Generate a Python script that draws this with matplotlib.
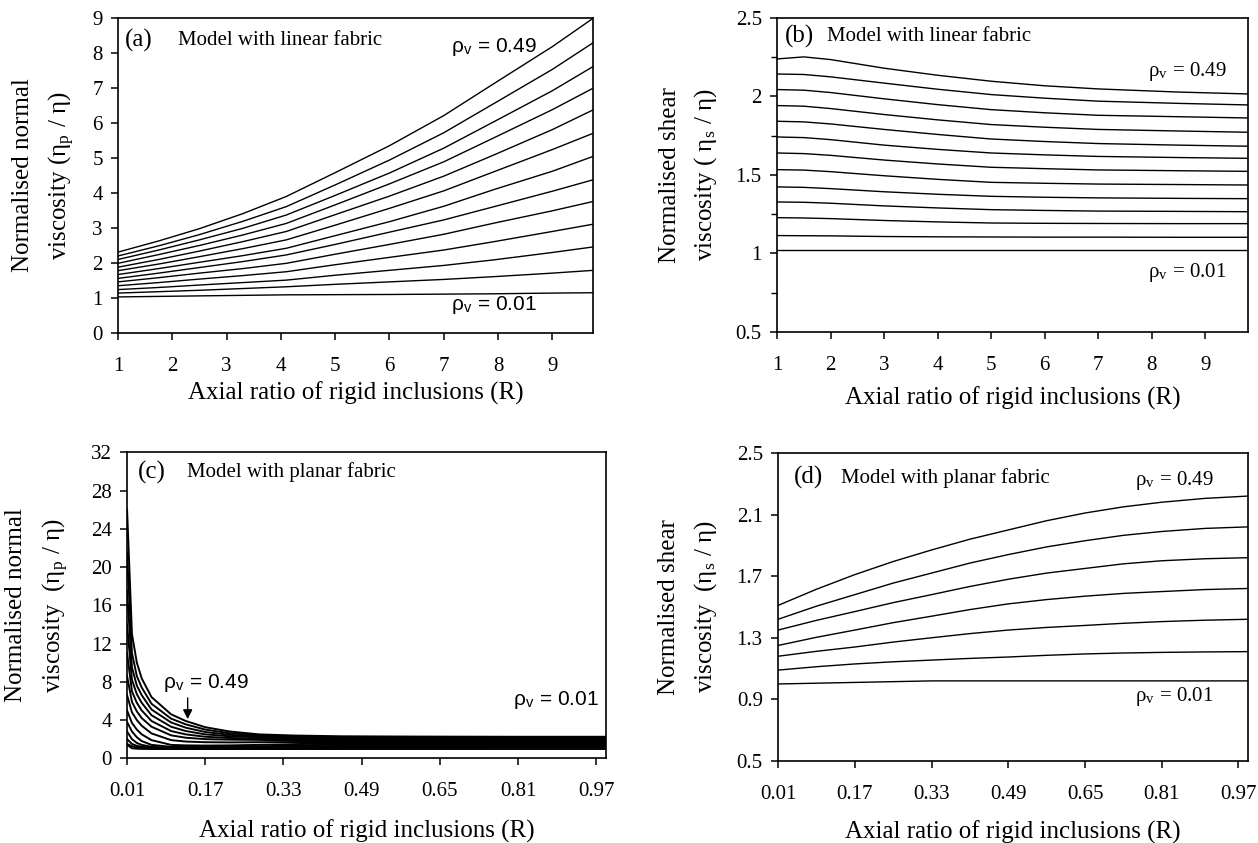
import numpy as np
import matplotlib.pyplot as plt
from matplotlib.ticker import MultipleLocator

plt.rcParams['font.family'] = 'Liberation Serif'
plt.rcParams['mathtext.fontset'] = 'stix'

# --- panel (a): normal viscosity, linear fabric (rho_v = 0.49 ... 0.01) ---
R_a = [1, 1.75, 2.5, 3.3, 4.1, 5, 6, 7, 7.93, 9, 9.76]
eta_a = [
    [2.31, 2.63, 2.98, 3.41, 3.90, 4.58, 5.35, 6.21, 7.13, 8.18, 9.00],
    [2.20, 2.49, 2.81, 3.19, 3.61, 4.23, 4.94, 5.72, 6.56, 7.53, 8.30],
    [2.10, 2.37, 2.66, 2.99, 3.37, 3.93, 4.57, 5.28, 6.04, 6.92, 7.62],
    [1.99, 2.24, 2.50, 2.80, 3.13, 3.66, 4.26, 4.89, 5.58, 6.38, 7.00],
    [1.88, 2.10, 2.34, 2.61, 2.90, 3.38, 3.91, 4.48, 5.09, 5.81, 6.38],
    [1.78, 1.97, 2.18, 2.41, 2.66, 3.08, 3.56, 4.06, 4.61, 5.24, 5.71],
    [1.67, 1.84, 2.02, 2.21, 2.42, 2.78, 3.18, 3.62, 4.10, 4.62, 5.05],
    [1.56, 1.71, 1.87, 2.04, 2.23, 2.53, 2.88, 3.23, 3.61, 4.05, 4.38],
    [1.46, 1.58, 1.71, 1.84, 1.99, 2.25, 2.53, 2.82, 3.14, 3.49, 3.76],
    [1.35, 1.44, 1.54, 1.64, 1.75, 1.95, 2.16, 2.37, 2.61, 2.90, 3.11],
    [1.24, 1.30, 1.37, 1.44, 1.51, 1.65, 1.79, 1.93, 2.09, 2.30, 2.46],
    [1.14, 1.18, 1.22, 1.27, 1.32, 1.39, 1.46, 1.53, 1.61, 1.71, 1.79],
    [1.03, 1.045, 1.06, 1.075, 1.09, 1.095, 1.10, 1.11, 1.12, 1.14, 1.15],
]

# --- panel (b): shear viscosity, linear fabric ---
R_b = [1, 1.5, 2, 3, 4, 5, 6, 7, 8.5, 9.8]
eta_b = [
    [2.239, 2.252, 2.235, 2.180, 2.135, 2.097, 2.068, 2.048, 2.028, 2.016],
    [2.143, 2.140, 2.125, 2.085, 2.046, 2.012, 1.989, 1.970, 1.956, 1.946],
    [2.044, 2.040, 2.025, 1.985, 1.948, 1.916, 1.896, 1.880, 1.871, 1.863],
    [1.942, 1.938, 1.923, 1.885, 1.851, 1.821, 1.804, 1.790, 1.780, 1.772],
    [1.842, 1.838, 1.825, 1.790, 1.758, 1.729, 1.713, 1.700, 1.690, 1.683],
    [1.742, 1.738, 1.725, 1.690, 1.663, 1.640, 1.628, 1.618, 1.611, 1.606],
    [1.640, 1.636, 1.625, 1.595, 1.570, 1.549, 1.540, 1.532, 1.527, 1.523],
    [1.534, 1.531, 1.521, 1.495, 1.472, 1.453, 1.447, 1.442, 1.439, 1.436],
    [1.424, 1.421, 1.413, 1.393, 1.377, 1.364, 1.358, 1.354, 1.351, 1.349],
    [1.328, 1.326, 1.320, 1.303, 1.290, 1.279, 1.274, 1.270, 1.268, 1.266],
    [1.228, 1.226, 1.222, 1.210, 1.201, 1.194, 1.192, 1.191, 1.190, 1.190],
    [1.114, 1.113, 1.112, 1.108, 1.106, 1.105, 1.104, 1.104, 1.103, 1.103],
    [1.020, 1.020, 1.020, 1.020, 1.020, 1.020, 1.020, 1.020, 1.020, 1.020],
]

# --- panel (c): normal viscosity, planar fabric ---
R_c = [0.01, 0.02, 0.03, 0.04, 0.06, 0.1, 0.13, 0.17, 0.22, 0.28, 0.35, 0.45, 0.6, 0.8, 0.99]
eta_c = [
    [26.0, 13.0, 10.0, 8.35, 6.4, 4.6, 3.9, 3.25, 2.8, 2.5, 2.38, 2.3, 2.27, 2.25, 2.25],
    [21.5, 11.0, 8.6, 7.4, 5.7, 4.15, 3.55, 3.0, 2.62, 2.4, 2.28, 2.2, 2.17, 2.15, 2.15],
    [17.5, 9.5, 7.6, 6.6, 5.1, 3.75, 3.2, 2.75, 2.45, 2.3, 2.18, 2.1, 2.07, 2.05, 2.05],
    [14.0, 8.2, 6.7, 5.8, 4.5, 3.3, 2.85, 2.5, 2.3, 2.2, 2.08, 2.0, 1.97, 1.95, 1.95],
    [11.0, 7.0, 5.8, 5.0, 3.9, 2.85, 2.5, 2.25, 2.12, 2.05, 1.98, 1.9, 1.87, 1.85, 1.85],
    [8.6, 5.9, 4.9, 4.2, 3.3, 2.4, 2.15, 2.0, 1.95, 1.92, 1.86, 1.8, 1.77, 1.75, 1.75],
    [6.6, 4.8, 4.0, 3.4, 2.6, 1.9, 1.75, 1.68, 1.66, 1.68, 1.7, 1.7, 1.67, 1.65, 1.65],
    [5.0, 3.7, 3.0, 2.5, 1.9, 1.4, 1.35, 1.33, 1.35, 1.4, 1.48, 1.58, 1.57, 1.55, 1.55],
    [3.8, 2.8, 2.2, 1.8, 1.4, 1.2, 1.18, 1.18, 1.2, 1.25, 1.33, 1.45, 1.47, 1.45, 1.45],
    [2.8, 2.0, 1.6, 1.4, 1.2, 1.1, 1.1, 1.1, 1.12, 1.16, 1.22, 1.3, 1.36, 1.35, 1.35],
    [2.0, 1.5, 1.3, 1.2, 1.1, 1.06, 1.06, 1.06, 1.07, 1.1, 1.14, 1.2, 1.25, 1.25, 1.25],
    [1.5, 1.25, 1.15, 1.1, 1.05, 1.03, 1.03, 1.03, 1.04, 1.05, 1.07, 1.1, 1.13, 1.14, 1.15],
    [1.4, 1.05, 1.0, 0.98, 0.97, 0.97, 0.97, 0.97, 0.97, 0.97, 0.97, 0.97, 0.97, 0.97, 0.97],
]

# --- panel (d): shear viscosity, planar fabric ---
R_d = [0.01, 0.09, 0.17, 0.25, 0.33, 0.41, 0.49, 0.57, 0.65, 0.73, 0.81, 0.9, 0.99]
eta_d = [
    [1.51, 1.615, 1.71, 1.795, 1.87, 1.94, 2.00, 2.06, 2.11, 2.15, 2.18, 2.205, 2.22],
    [1.42, 1.505, 1.58, 1.655, 1.72, 1.785, 1.84, 1.89, 1.93, 1.965, 1.99, 2.01, 2.02],
    [1.35, 1.413, 1.47, 1.528, 1.58, 1.633, 1.68, 1.72, 1.75, 1.78, 1.80, 1.813, 1.82],
    [1.25, 1.303, 1.35, 1.398, 1.44, 1.483, 1.52, 1.548, 1.57, 1.588, 1.60, 1.613, 1.62],
    [1.18, 1.212, 1.24, 1.272, 1.30, 1.327, 1.35, 1.367, 1.38, 1.394, 1.405, 1.414, 1.42],
    [1.09, 1.112, 1.13, 1.144, 1.155, 1.166, 1.175, 1.186, 1.195, 1.201, 1.205, 1.208, 1.21],
    [1.00, 1.005, 1.01, 1.015, 1.02, 1.02, 1.02, 1.02, 1.02, 1.02, 1.02, 1.02, 1.02],
]

ticks_lin = [1, 2, 3, 4, 5, 6, 7, 8, 9]
ticks_pl = [0.01, 0.17, 0.33, 0.49, 0.65, 0.81, 0.97]
xlab = 'Axial ratio of rigid inclusions (R)'
rho_lbl = 'ρ$_{\\mathregular{v}}$ = '

fig = plt.figure(figsize=(12.58, 8.43), dpi=100)
ax_a = fig.add_axes([0.0938, 0.605, 0.3776, 0.3737])
ax_b = fig.add_axes([0.6177, 0.6062, 0.3744, 0.3725])
ax_c = fig.add_axes([0.1010, 0.1005, 0.3808, 0.3630])
ax_d = fig.add_axes([0.6185, 0.0973, 0.3736, 0.3654])


def style(ax, ylab, ylab_x, xlab_y):
    for s in ax.spines.values():
        s.set_linewidth(1.2)
    ax.tick_params(direction='out', length=5, width=1.1, labelsize=15)
    ax.tick_params(axis='x', pad=12)
    ax.tick_params(axis='y', pad=6)
    ax.tick_params(which='minor', direction='out', length=4, width=1.0)
    ax.text(ylab_x, 0.5, ylab, transform=ax.transAxes, rotation=90,
            ha='center', va='center', ma='center', fontsize=18, linespacing=1.6)
    ax.set_xlabel(xlab, fontsize=18, va='center')
    ax.xaxis.set_label_coords(0.5, xlab_y)


# (a)
for row in eta_a:
    ax_a.plot(R_a, row, color='black', lw=1.0)
ax_a.set_xlim(1, 9.75)
ax_a.set_ylim(0, 9)
ax_a.set_xticks(ticks_lin)
ax_a.set_yticks(range(0, 10))
style(ax_a, 'Normalised normal\nviscosity (η$_{\\mathregular{p}}$ / η)', -0.156, -0.19)
ax_a.text(1.13, 8.37, '(a)', fontsize=18, va='center')
ax_a.text(2.1, 8.37, 'Model with linear fabric', fontsize=15, va='center')
ax_a.text(7.13, 8.18, rho_lbl + '0.49', fontsize=15, va='center', family='Liberation Sans')
ax_a.text(7.13, 0.8, rho_lbl + '0.01', fontsize=15, va='center', family='Liberation Sans')

# (b)
for row in eta_b:
    ax_b.plot(R_b, row, color='black', lw=1.0)
ax_b.set_xlim(1, 9.8)
ax_b.set_ylim(0.5, 2.5)
ax_b.set_xticks(ticks_lin)
ax_b.set_yticks([0.5, 1, 1.5, 2, 2.5])
ax_b.set_yticklabels(['0.5', '1', '1.5', '2', '2.5'])
ax_b.yaxis.set_minor_locator(MultipleLocator(0.25))
style(ax_b, 'Normalised shear\nviscosity ( η$_{\\mathregular{s}}$ / η)', -0.187, -0.21)
ax_b.text(1.15, 2.38, '(b)', fontsize=18, va='center')
ax_b.text(1.93, 2.38, 'Model with linear fabric', fontsize=15, va='center')
ax_b.text(7.93, 2.16, rho_lbl + '0.49', fontsize=15, va='center')
ax_b.text(7.93, 0.88, rho_lbl + '0.01', fontsize=15, va='center')

# (c)
for row in eta_c:
    ax_c.plot(R_c, row, color='black', lw=1.4)
ax_c.set_xlim(0.01, 0.99)
ax_c.set_ylim(0, 32)
ax_c.set_xticks(ticks_pl)
ax_c.set_xticklabels(['%.2f' % t for t in ticks_pl])
ax_c.set_yticks(range(0, 33, 4))
style(ax_c, 'Normalised normal\nviscosity  (η$_{\\mathregular{p}}$ / η)', -0.187, -0.239)
ax_c.text(0.0325, 29.9, '(c)', fontsize=18, va='center')
ax_c.text(0.132, 29.9, 'Model with planar fabric', fontsize=15, va='center')
ax_c.text(0.0836, 7.86, rho_lbl + '0.49', fontsize=15, va='center', family='Liberation Sans')
ax_c.annotate('', xy=(0.134, 3.8), xytext=(0.134, 6.6),
              arrowprops=dict(arrowstyle='-|>', color='black', lw=1.0, mutation_scale=14))
ax_c.text(0.80, 6.1, rho_lbl + '0.01', fontsize=15, va='center', family='Liberation Sans')

# (d)
for row in eta_d:
    ax_d.plot(R_d, row, color='black', lw=1.0)
ax_d.set_xlim(0.01, 0.99)
ax_d.set_ylim(0.5, 2.5)
ax_d.set_xticks(ticks_pl)
ax_d.set_xticklabels(['%.2f' % t for t in ticks_pl])
ax_d.set_yticks([0.5, 0.9, 1.3, 1.7, 2.1, 2.5])
style(ax_d, 'Normalised shear\nviscosity  (η$_{\\mathregular{s}}$ / η)', -0.191, -0.23)
ax_d.text(0.043, 2.34, '(d)', fontsize=18, va='center')
ax_d.text(0.142, 2.34, 'Model with planar fabric', fontsize=15, va='center')
ax_d.text(0.754, 2.32, rho_lbl + '0.49', fontsize=15, va='center')
ax_d.text(0.754, 0.92, rho_lbl + '0.01', fontsize=15, va='center')

fig.savefig('out.png', dpi=100)
